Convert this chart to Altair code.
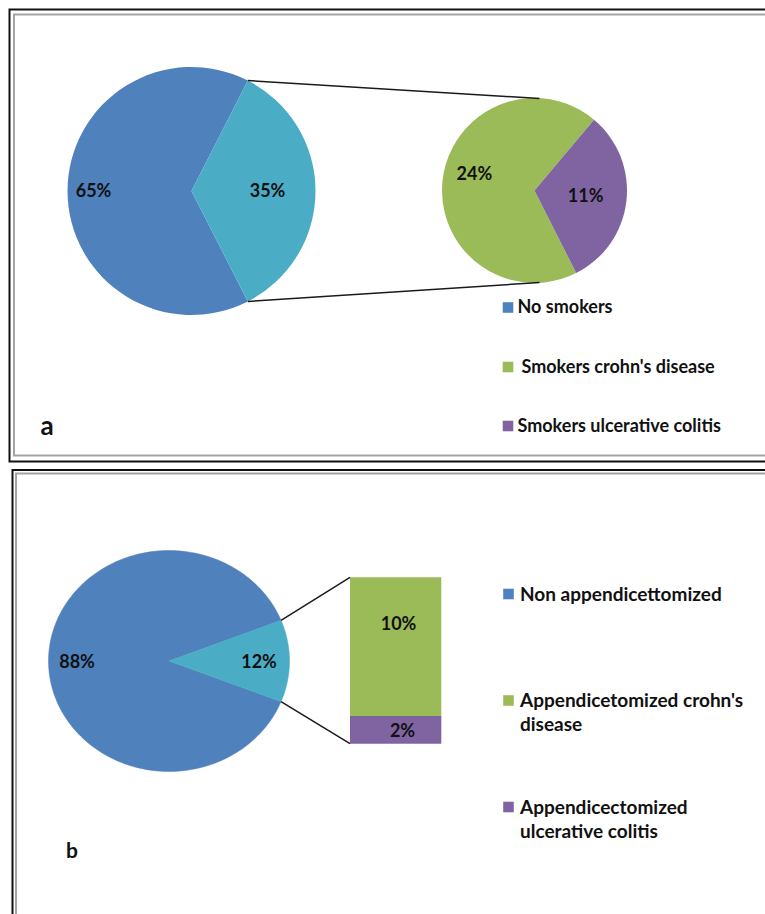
import math

import altair as alt
import pandas as pd

# ---------------------------------------------------------------- data
# a: smoking status, with the smokers split by disease
smoke_cats = ["No smokers", "Smokers"]
smoke_vals = [65, 35]
smoke_sub_cats = ["Smokers crohn's disease", "Smokers ulcerative colitis"]
smoke_sub_vals = [24, 11]

# b: appendicectomy status, with the appendicectomized split by disease
app_cats = ["Non appendicettomized", "Appendicectomized"]
app_vals = [88, 12]
app_sub_cats = ["Appendicetomized crohn's disease", "Appendicectomized ulcerative colitis"]
app_sub_vals = [10, 2]

legend_a = ["No smokers", "Smokers crohn's disease", "Smokers ulcerative colitis"]
legend_b = ["Non appendicettomized", "Appendicetomized crohn's\ndisease",
            "Appendicectomized\nulcerative colitis"]

# ---------------------------------------------------------------- style
W, H = 765, 914
FONT = "Lato"
INK = "#111111"
BLUE, TEAL, GREEN, PURPLE = "#4F81BD", "#4BACC6", "#9BBB59", "#8064A2"
all_cats = smoke_cats + smoke_sub_cats + app_cats + app_sub_cats
palette = dict(zip(all_cats, [BLUE, TEAL, GREEN, PURPLE, BLUE, TEAL, GREEN, PURPLE]))
COLOR = alt.Scale(domain=all_cats, range=[palette[c] for c in all_cats])
XS = alt.Scale(domain=[0, W], range=[0, W], nice=False, zero=False)
YS = alt.Scale(domain=[0, H], range=[0, H], nice=False, zero=False)

BLANK = alt.Data(values=[{}])


def frame(cats, vals):
    return pd.DataFrame({"cat": cats, "value": vals, "idx": list(range(len(cats)))})


def theta_scale(total, start_deg):
    a0 = math.radians(start_deg)
    return alt.Scale(domain=[0, total], range=[a0, a0 + 2 * math.pi])


def pie(df, cx, cy, r, start_deg):
    total = float(df["value"].sum())
    return alt.Chart(df).mark_arc(radius=r).encode(
        theta=alt.Theta("value:Q", stack=True, scale=theta_scale(total, start_deg)),
        color=alt.Color("cat:N", scale=COLOR, legend=None),
        order=alt.Order("idx:Q"),
        x=alt.value(cx),
        y=alt.value(cy),
    )


def pie_label(df, cat, cx, cy, r, start_deg, dx=0, dy=0):
    total = float(df["value"].sum())
    return (
        alt.Chart(df)
        .transform_window(cum="sum(value)", sort=[alt.SortField("idx")])
        .transform_calculate(mid="datum.cum - datum.value / 2", label="datum.value + '%'")
        .transform_filter(alt.datum.cat == cat)
        .mark_text(radius=r, font=FONT, fontWeight="bold", fontSize=18, color=INK,
                   dx=dx, dy=dy)
        .encode(
            theta=alt.Theta("mid:Q", scale=theta_scale(total, start_deg)),
            text="label:N",
            x=alt.value(cx),
            y=alt.value(cy),
        )
    )


def ellipse_pie(cats, vals, cx, cy, rx, ry, start_deg, steps=240):
    """Filled elliptical pie slices, one closed outline per slice."""
    total = float(sum(vals))
    layers = []
    acc = 0.0
    for c, v in zip(cats, vals):
        a0 = math.radians(start_deg + 360.0 * acc / total)
        a1 = math.radians(start_deg + 360.0 * (acc + v) / total)
        n = max(8, int(steps * v / total))
        pts = [(cx, cy)]
        for k in range(n + 1):
            a = a0 + (a1 - a0) * k / n
            pts.append((cx + rx * math.sin(a), cy - ry * math.cos(a)))
        pts.append((cx, cy))
        df = pd.DataFrame({"k": range(len(pts)), "px": [p[0] for p in pts],
                           "py": [p[1] for p in pts], "cat": c})
        layers.append(
            alt.Chart(df).mark_line(fill=palette[c], stroke=palette[c], strokeWidth=0.5)
            .encode(x=alt.X("px:Q", scale=XS, axis=None),
                    y=alt.Y("py:Q", scale=YS, axis=None),
                    order=alt.Order("k:Q"))
        )
        acc += v
    return layers


def rule(x1, y1, x2, y2, color="#1a1a1a", width=1.5):
    return alt.Chart(BLANK).mark_rule(color=color, strokeWidth=width).encode(
        x=alt.value(x1), y=alt.value(y1), x2=alt.value(x2), y2=alt.value(y2))


def frame_box(x1, y1, x2, y2, color, width):
    return alt.Chart(BLANK).mark_rect(fill="transparent", stroke=color, strokeWidth=width).encode(
        x=alt.value(x1), y=alt.value(y1), x2=alt.value(x2), y2=alt.value(y2))


def swatch(x, y, color):
    return alt.Chart(BLANK).mark_square(size=112, color=color, opacity=1).encode(
        x=alt.value(x), y=alt.value(y))


def text(x, y, s, size=18, baseline="middle", align="left", line_height=24):
    return alt.Chart(BLANK).mark_text(
        text=s, font=FONT, fontWeight="bold", fontSize=size, color=INK,
        align=align, baseline=baseline, lineBreak="\n", lineHeight=line_height,
    ).encode(x=alt.value(x), y=alt.value(y))


layers = []

# ---------------------------------------------------------------- frames
layers += [
    frame_box(9.5, 9.5, W + 20, 461.5, "#111111", 2),
    frame_box(14, 14.5, W + 20, 455.5, "#a3a3a3", 2),
    frame_box(12.5, 470, W + 20, H + 20, "#111111", 2),
    frame_box(16, 473.5, W + 20, H + 20, "#a3a3a3", 2),
]

# ---------------------------------------------------------------- panel a
a_main = frame(smoke_cats, smoke_vals)
a_sub = frame(smoke_sub_cats, smoke_sub_vals)
ACX, ACY, AR, A_START = 191.5, 191, 124, 153
SCX, SCY, SR, S_START = 534.5, 190.5, 92.5, 153.2

layers += [pie(a_main, ACX, ACY, AR, A_START), pie(a_sub, SCX, SCY, SR, S_START)]

# connectors from the smokers slice edges to the secondary pie
edge_top = math.radians(A_START + 360 * smoke_vals[0] / sum(smoke_vals))
edge_bot = math.radians(A_START)
layers += [
    rule(ACX + AR * math.sin(edge_top), ACY - AR * math.cos(edge_top), SCX + 5, SCY - SR + 0.5),
    rule(ACX + AR * math.sin(edge_bot), ACY - AR * math.cos(edge_bot), SCX + 5, SCY + SR - 0.5),
]

layers += [
    pie_label(a_main, "No smokers", ACX, ACY, 98, A_START, dy=1),
    pie_label(a_main, "Smokers", ACX, ACY, 76, A_START, dy=1),
    pie_label(a_sub, "Smokers crohn's disease", SCX, SCY, 62, S_START, dx=1.5, dy=-8),
    pie_label(a_sub, "Smokers ulcerative colitis", SCX, SCY, 51.5, S_START, dy=1),
]

layers += [
    swatch(508, 307.5, palette[smoke_cats[0]]),
    swatch(508, 367, palette[smoke_sub_cats[0]]),
    swatch(508, 426, palette[smoke_sub_cats[1]]),
    text(517.5, 308, legend_a[0]),
    text(521.5, 368, legend_a[1]),
    text(517.5, 427, legend_a[2]),
    text(47, 434.5, "a", size=26, baseline="alphabetic", align="center"),
]

# ---------------------------------------------------------------- panel b
b_main = frame(app_cats, app_vals)
b_sub = frame(app_sub_cats, app_sub_vals)
BCX, BCY, BRX, BRY = 169, 661, 120.5, 110.5
B_START = 90 + 180 * app_vals[1] / sum(app_vals)
BAR_X1, BAR_X2, BAR_TOP, BAR_BOT = 350, 441.3, 577.3, 743.7

layers += ellipse_pie(app_cats, app_vals, BCX, BCY, BRX, BRY, B_START)

sub_total = float(sum(app_sub_vals))
BAR_Y = alt.Scale(domain=[0, sub_total], range=[BAR_BOT, BAR_TOP], nice=False, zero=True)


def bar_stack():
    # ulcerative colitis at the bottom, crohn's disease stacked above it
    return (
        alt.Chart(b_sub)
        .transform_window(cum="sum(value)", sort=[alt.SortField("idx", order="descending")])
        .transform_calculate(lo="datum.cum - datum.value",
                             mid="datum.cum - datum.value / 2",
                             label="datum.value + '%'")
    )


layers.append(
    bar_stack().mark_rect().encode(
        x=alt.value(BAR_X1), x2=alt.value(BAR_X2),
        y=alt.Y("lo:Q", axis=None, scale=BAR_Y),
        y2="cum:Q",
        color=alt.Color("cat:N", scale=COLOR, legend=None),
    )
)

# connectors from the appendicectomized slice edges to the bar corners
e_top = math.radians(B_START - 360 * app_vals[1] / sum(app_vals))
e_bot = math.radians(B_START)
layers += [
    rule(BCX + BRX * math.sin(e_top), BCY - BRY * math.cos(e_top), BAR_X1, BAR_TOP),
    rule(BCX + BRX * math.sin(e_bot), BCY - BRY * math.cos(e_bot), BAR_X1, BAR_BOT),
]


def bar_label(cat, x, dy):
    return (
        bar_stack()
        .transform_filter(alt.datum.cat == cat)
        .mark_text(font=FONT, fontWeight="bold", fontSize=18, color=INK, dy=dy)
        .encode(
            x=alt.value(x),
            y=alt.Y("mid:Q", axis=None, scale=BAR_Y),
            text="label:N",
        )
    )


layers += [
    pie_label(b_main, app_cats[0], BCX, BCY, 92, B_START, dy=2),
    pie_label(b_main, app_cats[1], BCX, BCY, 90, B_START, dy=2),
    bar_label(app_sub_cats[0], 398.5, -22),
    bar_label(app_sub_cats[1], 402.5, 2.5),
]

layers += [
    swatch(508.5, 594, palette[app_cats[0]]),
    swatch(508.5, 700.5, palette[app_sub_cats[0]]),
    swatch(508.5, 807, palette[app_sub_cats[1]]),
    text(520, 594.5, legend_b[0], size=19),
    text(520, 706.5, legend_b[1], size=19, baseline="alphabetic"),
    text(520, 813.5, legend_b[2], size=19, baseline="alphabetic"),
    text(72, 858.3, "b", size=21, baseline="alphabetic", align="center"),
]

chart = (
    alt.layer(*layers)
    .resolve_scale(x="independent", y="independent", theta="independent")
    .properties(width=W, height=H, padding=0, autosize=alt.AutoSizeParams(type="none"),
                background="white")
    .configure_view(stroke=None)
)

chart.save("out.html", embed_options={"renderer": "svg", "actions": False})
